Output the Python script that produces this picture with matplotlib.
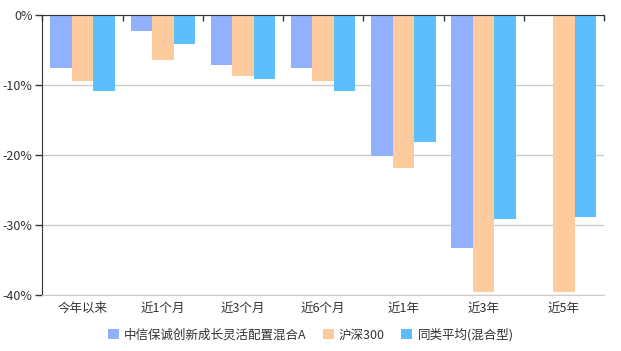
import numpy as np
import matplotlib
matplotlib.use('Agg')
import matplotlib.pyplot as plt

plt.rcParams['font.family'] = ['Noto Sans CJK SC', 'DejaVu Sans']

categories = ['今年以来', '近1个月', '近3个月', '近6个月', '近1年', '近3年', '近5年']
series_names = ['中信保诚创新成长灵活配置混合A', '沪深300', '同类平均(混合型)']
fund_a = [-7.6, -2.3, -7.2, -7.6, -20.2, -33.3, np.nan]
hs300 = [-9.5, -6.5, -8.7, -9.5, -21.9, -39.6, -39.6]
peer_avg = [-10.8, -4.1, -9.2, -10.9, -18.1, -29.2, -28.8]
colors = ['#92b1fd', '#fdcb9d', '#5cbefc']
yticks = [0, -10, -20, -30, -40]

fig = plt.figure(figsize=(6.21, 3.51), dpi=100)
ax = fig.add_axes([0.0684, 0.1595, 0.9042, 0.7978])

x = np.arange(len(categories))
w = 0.268
for i, (vals, c, name) in enumerate(zip([fund_a, hs300, peer_avg], colors, series_names)):
    ax.bar(x + (i - 1) * w, vals, width=w, color=c, label=name, linewidth=0)

ax.set_xlim(-0.5, len(categories) - 0.5)
ax.set_ylim(-40, 0)
ax.set_yticks(yticks)
ax.set_yticklabels([f'{t}%' for t in yticks], color='#333333', fontsize=9)
ax.set_xticks(x)
ax.set_xticklabels(categories, color='#333333', fontsize=9)
ax.set_xticks(np.arange(len(categories) + 1) - 0.5, minor=True)

ax.tick_params(axis='x', which='major', length=0, pad=5)
ax.tick_params(axis='x', which='minor', bottom=False, top=True, direction='in',
               length=4, width=1, color='#333333')
ax.tick_params(axis='y', length=5, width=1, color='#333333', pad=2)

ax.grid(axis='y', color='#cccccc', linewidth=1)
ax.set_axisbelow(True)
ax.spines['right'].set_visible(False)
ax.spines['bottom'].set_color('#cccccc')
ax.spines['top'].set_color('#333333')
ax.spines['left'].set_color('#333333')
ax.spines['top'].set_zorder(5)

fig.legend(loc='lower center', ncol=3, frameon=False, fontsize=9,
           bbox_to_anchor=(0.5, -0.005), handlelength=0.9, handleheight=0.9,
           handletextpad=0.4, columnspacing=1.3, labelcolor='#333333')

fig.savefig('out.png', dpi=100)
